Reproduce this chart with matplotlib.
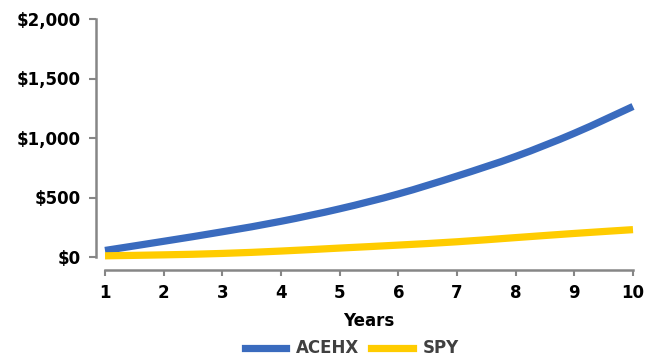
import numpy as np
import matplotlib.pyplot as plt
from matplotlib.path import Path
from matplotlib.patches import PathPatch
from matplotlib.lines import Line2D
from matplotlib.ticker import FuncFormatter

# growth of an investment, by year
years = [1, 2, 3, 4, 5, 6, 7, 8, 9, 10]
acehx = [55, 132, 212, 300, 405, 530, 680, 845, 1040, 1265]
spy = [10, 18, 30, 50, 75, 100, 128, 163, 198, 230]

blue = '#3a6bbe'
gold = '#ffcc00'
grey = '#868686'

def smooth_path(x, y):
    # catmull-rom through the points, written as cubic bezier segments
    x = np.asarray(x, float)
    y = np.asarray(y, float)
    pts = np.column_stack([x, y])
    verts = [pts[0]]
    codes = [Path.MOVETO]
    n = len(pts)
    for i in range(n - 1):
        p0 = pts[max(i - 1, 0)]
        p1 = pts[i]
        p2 = pts[i + 1]
        p3 = pts[min(i + 2, n - 1)]
        c1 = p1 + (p2 - p0) / 6.0
        c2 = p2 - (p3 - p1) / 6.0
        verts += [c1, c2, p2]
        codes += [Path.CURVE4] * 3
    return Path(verts, codes)

fig = plt.figure(figsize=(6.48, 3.56), dpi=100)
ax = fig.add_axes([105/648, 1-257/356, 528/648, 238/356])

for vals, col in [(acehx, blue), (spy, gold)]:
    patch = PathPatch(smooth_path(years, vals), facecolor='none', edgecolor=col,
                      lw=5.2, capstyle='butt', joinstyle='round', clip_on=False)
    ax.add_patch(patch)

ax.set_xlim(1, 10)
ax.set_ylim(0, 2000)
ax.set_xticks(years)
ax.set_yticks(np.arange(0, 2001, 500))
ax.yaxis.set_major_formatter(FuncFormatter(lambda v, p: '${:,.0f}'.format(v)))

for s in ['top', 'right']:
    ax.spines[s].set_visible(False)
ax.spines['left'].set_position(('outward', 6.5))
ax.spines['bottom'].set_position(('outward', 9))
for s in ['left', 'bottom']:
    ax.spines[s].set_color(grey)
    ax.spines[s].set_linewidth(1.8)

ax.tick_params(axis='y', direction='out', length=5, width=1.5, color=grey, pad=6,
               labelsize=12)
ax.tick_params(axis='x', direction='out', length=4, width=1.5, color=grey, pad=6.5,
               labelsize=12)
for t in ax.get_xticklabels() + ax.get_yticklabels():
    t.set_fontweight('bold')

ax.set_xlabel('Years', fontsize=12, fontweight='bold', labelpad=7)

handles = [Line2D([], [], color=blue, lw=5.2), Line2D([], [], color=gold, lw=5.2)]
leg = fig.legend(handles, ['ACEHX', 'SPY'], loc='lower center',
                 bbox_to_anchor=(352/648, -0.046), ncol=2, frameon=False,
                 handlelength=2.5, handletextpad=0.6, columnspacing=0.7,
                 prop={'size': 12, 'weight': 'bold'})
for t in leg.get_texts():
    t.set_color('#404040')

plt.savefig('out.png', dpi=100)
